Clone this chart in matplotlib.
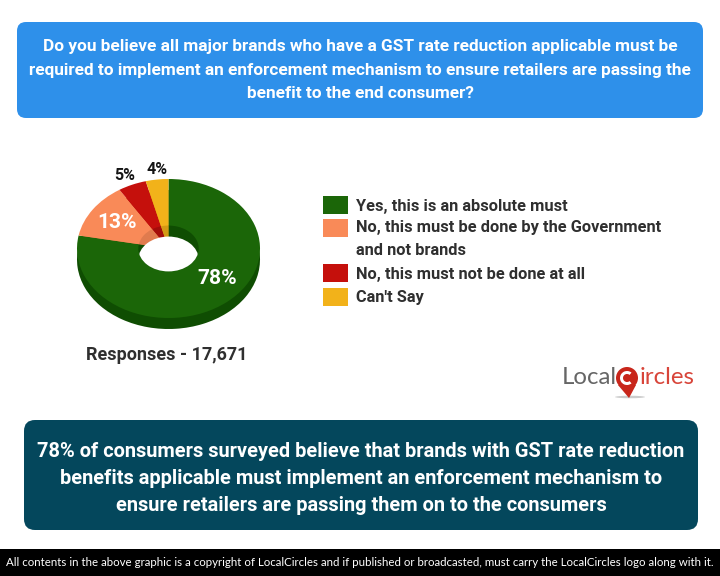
import matplotlib
matplotlib.use("Agg")
import matplotlib.pyplot as plt
from matplotlib.patches import FancyBboxPatch, Ellipse, Rectangle, Circle, Polygon, Wedge

categories = ["Yes, this is an absolute must",
              "No, this must be done by the Government\nand not brands",
              "No, this must not be done at all",
              "Can't Say"]
values = [78, 13, 5, 4]
colors = ["#1b6608", "#f98a58", "#c5100c", "#f2b21a"]
side_colors = ["#0f4d02", "#e07b4e", "#a30d0a", "#d49a14"]
wall_colors = ["#0f4d02", "#e07b4e", "#a30d0a", "#d49a14"]

title = ("Do you believe all major brands who have a GST rate reduction applicable must be\n"
         "required to implement an enforcement mechanism to ensure retailers are passing the\n"
         "benefit to the end consumer?")
finding = ("78% of consumers surveyed believe that brands with GST rate reduction\n"
           "benefits applicable must implement an enforcement mechanism to\n"
           "ensure retailers are passing them on to the consumers")
responses = "Responses - 17,671"
footer = ("All contents in the above graphic is a copyright of LocalCircles and if published or "
          "broadcasted, must carry the LocalCircles logo along with it.")

W, H = 720, 576
fig = plt.figure(figsize=(W / 100, H / 100), dpi=100, facecolor="white")
bg = fig.add_axes([0, 0, 1, 1], zorder=0)
bg.set_xlim(0, W); bg.set_ylim(H, 0); bg.axis("off")

def px(p):
    return p * 0.72

F = "Roboto"
# header, finding, footer boxes
bg.add_patch(FancyBboxPatch((17, 22), 686, 96, boxstyle="round,pad=0,rounding_size=9", lw=0, fc="#2e90ea"))
bg.add_patch(FancyBboxPatch((24, 420), 674, 110, boxstyle="round,pad=0,rounding_size=11", lw=0, fc="#04475c"))
bg.add_patch(Rectangle((0, 549), W, 27, lw=0, fc="black"))
bg.text(360, 70, title, color="white", fontfamily=F, fontweight="bold", fontsize=px(17.2),
        ha="center", va="center", linespacing=1.67)
bg.text(361, 478.5, finding, color="white", fontfamily=F, fontweight="bold", fontsize=px(20),
        ha="center", va="center", linespacing=1.55)
bg.text(360, 562, footer, color="white", fontfamily="Lato", fontsize=px(11.5), ha="center", va="center")
bg.text(167, 355, responses, color="#2f2f2f", fontfamily=F, fontweight="bold", fontsize=px(18),
        ha="center", va="center")

# donut (pixel box of the top face: x 77..260, y 179..318; depth 11 px)
L, R, T, B, D = 77, 260, 179, 318, 11
pie_ax = fig.add_axes([L / W, 1 - (B + D + 2) / H, (R - L) / W, (B + D + 2 - T) / H], zorder=1)
ry = (B - T) / 2
pie_ax.set_facecolor("none")
shift = D / ry
kw = dict(startangle=90, counterclock=False, frame=False, wedgeprops=dict(lw=0))
pie_ax.pie(values, colors=side_colors, center=(0, -shift), radius=1, **kw)
pie_ax.pie(values, colors=colors, center=(0, 0), radius=1, **kw)
hole_r = 0.33
pie_ax.pie(values, colors=wall_colors, center=(0, 0), radius=hole_r, **kw)
pie_ax.set_aspect("auto")
pie_ax.set_xlim(-1, 1)
pie_ax.set_ylim(-1 - (D + 2) / ry, 1)
pie_ax.axis("off")
top_hole = Ellipse((0, 0), 2 * hole_r, 2 * hole_r, fc="none", lw=0)
pie_ax.add_patch(top_hole)
white = Ellipse((0, -shift), 2 * hole_r, 2 * hole_r, fc="white", lw=0, zorder=5)
pie_ax.add_patch(white)
white.set_clip_path(top_hole)

# value labels
lab_pos = [(217, 278, "white", 21), (117, 223, "white", 21), (125, 175, "#151515", 16), (157, 170, "#151515", 16)]
overlay = fig.add_axes([0, 0, 1, 1], zorder=2)
overlay.set_xlim(0, W); overlay.set_ylim(H, 0); overlay.axis("off"); overlay.patch.set_alpha(0)
for v, (x, y, c, s) in zip(values, lab_pos):
    overlay.text(x, y, f"{v}%", color=c, fontfamily=F, fontweight="bold", fontsize=px(s), ha="center", va="center")

# legend
handles = [Rectangle((0, 0), 1, 1, fc=c, lw=0) for c in colors]
fpx = 16.4
leg = fig.legend(handles, categories, loc="upper left", bbox_to_anchor=(323 / W, 1 - 196.5 / H),
                 frameon=False, prop=dict(family=F, weight="bold", size=px(fpx)), labelcolor="#2f2f2f",
                 handlelength=25 / fpx, handleheight=21 / fpx, handletextpad=8 / fpx,
                 labelspacing=0.37, borderpad=0, borderaxespad=0)
for t in leg.get_texts():
    t.set_linespacing(1.66)
# the two-line entry's swatch sits beside its first line
two_line = leg.legend_handles[1]
two_line.set_y(two_line.get_y() + px(12))

# LocalCircles logo
overlay.text(562, 377, "Local", color="#666666", fontfamily="Lato", fontsize=px(24), ha="left", va="center")
overlay.text(640, 377, "ircles", color="#d8453a", fontfamily="Lato", fontsize=px(24), ha="left", va="center")
overlay.add_patch(Polygon([[618, 385], [636, 385], [629, 398]], fc="#c8261b", lw=0))
overlay.add_patch(Circle((627, 378), 11, fc="#c8261b", lw=0))
overlay.add_patch(Wedge((627, 378), 7, 50, 310, width=3, fc="white", lw=0))
overlay.add_patch(Ellipse((630, 397), 30, 2.5, fc="#cccccc", lw=0, zorder=0))

fig.savefig("out.png", dpi=100)
